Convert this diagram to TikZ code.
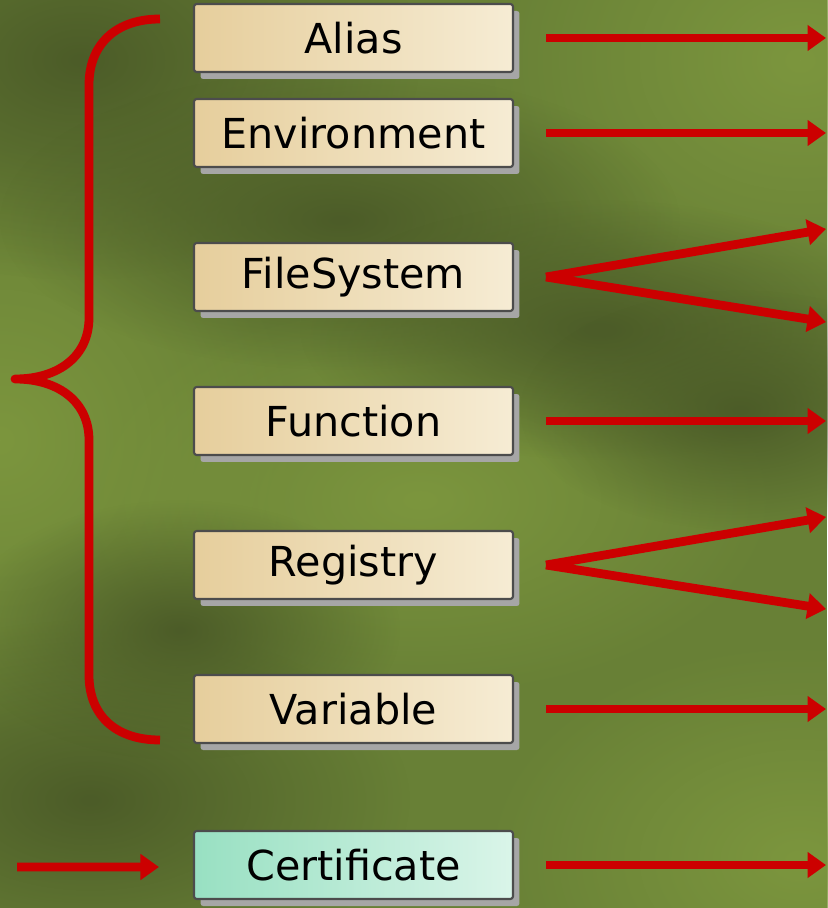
\documentclass[tikz,border=0pt]{standalone}
\usepackage{fontspec}
\setmainfont{DejaVu Sans}
\usetikzlibrary{positioning,arrows.meta,shadows,fadings}

\definecolor{bgmid}{RGB}{104,128,54}
\definecolor{bgdark}{RGB}{76,92,40}
\definecolor{bglight}{RGB}{124,150,62}
\definecolor{arrowred}{RGB}{204,0,0}
\definecolor{tanA}{RGB}{230,206,156}
\definecolor{tanB}{RGB}{246,236,212}
\definecolor{mintA}{RGB}{152,224,194}
\definecolor{mintB}{RGB}{218,245,233}

\tikzfading[name=softblob, inner color=transparent!0, outer color=transparent!100]

\tikzset{
  objbox/.style={draw=black!70, line width=1.2pt, rounded corners=1.5pt,
    minimum width=6.38cm, minimum height=1.36cm, left color=tanA, right color=tanB,
    font=\fontsize{23.5}{28}\selectfont,
    drop shadow={shadow xshift=0.13cm, shadow yshift=-0.14cm, fill=black!35, opacity=1}},
  certbox/.style={objbox, left color=mintA, right color=mintB},
  redarrow/.style={arrowred, line width=5pt, -{Triangle[length=0.37cm,width=0.5cm]}},
  blob/.style={path fading=softblob}
}

\begin{document}
\begin{tikzpicture}[x=0.02cm, y=-0.02cm]
    \useasboundingbox (0,0) rectangle (827,908);

    % Фон
    \fill[bgmid] (0,0) rectangle (827,908);
    \fill[bglight, blob] (800,60) ellipse (320 and 260);
    \fill[bglight, blob] (0,440) ellipse (300 and 300);
    \fill[bglight, blob] (420,500) ellipse (360 and 200);
    \fill[bglight, blob] (800,860) ellipse (320 and 220);
    \fill[bgdark, blob] (80,60) ellipse (340 and 220);
    \fill[bgdark, blob] (340,220) ellipse (340 and 150);
    \fill[bgdark, blob] (600,330) ellipse (300 and 130);
    \fill[bgdark, blob] (740,410) ellipse (220 and 120);
    \fill[bgdark, blob] (90,800) ellipse (320 and 180);
    \fill[bgdark, blob] (180,630) ellipse (220 and 130);

    % Блоки
    \node[objbox] (alias) at (353.5,38) {Alias};
    \node[objbox] (env) at (353.5,133) {Environment};
    \node[objbox] (fs) at (353.5,277) {FileSystem};
    \node[objbox] (func) at (353.5,421) {Function};
    \node[objbox] (reg) at (353.5,565) {Registry};
    \node[objbox] (var) at (353.5,709) {Variable};
    \node[certbox] (cert) at (353.5,865) {Certificate};

    % Концы стрелок
    \coordinate (aliasout) at (826,38);
    \coordinate (envout) at (826,133);
    \coordinate (fsup) at (826,229);
    \coordinate (fsdown) at (826,322);
    \coordinate (funcout) at (826,421);
    \coordinate (regup) at (826,517);
    \coordinate (regdown) at (826,609);
    \coordinate (varout) at (826,709);
    \coordinate (certout) at (826,865);
    \coordinate (certin) at (17,867);

    % Стрелки
    \draw[redarrow] ([xshift=0.64cm]alias.east) -- (aliasout);
    \draw[redarrow] ([xshift=0.64cm]env.east) -- (envout);
    \draw[redarrow] ([xshift=0.64cm]fs.east) -- (fsup);
    \draw[redarrow] ([xshift=0.64cm]fs.east) -- (fsdown);
    \draw[redarrow] ([xshift=0.64cm]func.east) -- (funcout);
    \draw[redarrow] ([xshift=0.64cm]reg.east) -- (regup);
    \draw[redarrow] ([xshift=0.64cm]reg.east) -- (regdown);
    \draw[redarrow] ([xshift=0.64cm]var.east) -- (varout);
    \draw[redarrow] ([xshift=0.64cm]cert.east) -- (certout);
    \draw[redarrow] (certin) -- ([xshift=-0.68cm,yshift=-0.04cm]cert.west);

    % Фигурная скобка
    \draw[arrowred, line width=5pt, line join=round]
        (160,19) .. controls (115,19) and (89,45) .. (89,85) -- (89,318)
        .. controls (89,355) and (60,379) .. (15,379)
        .. controls (60,379) and (89,403) .. (89,440) -- (89,675)
        .. controls (89,715) and (115,740) .. (160,740);
\end{tikzpicture}
\end{document}
